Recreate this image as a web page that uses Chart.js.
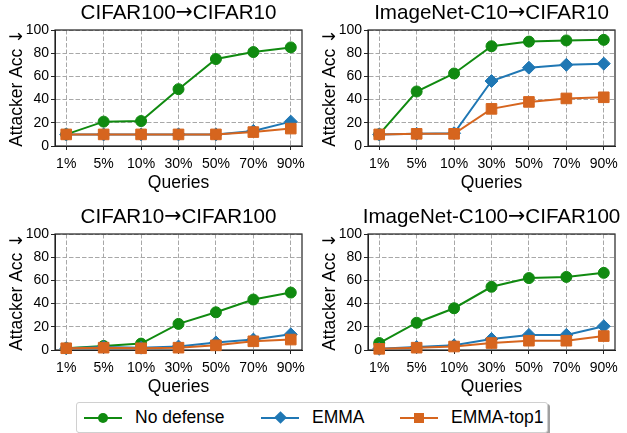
<!DOCTYPE html>
<html>
<head>
<meta charset="utf-8">
<script src="https://cdn.jsdelivr.net/npm/chart.js@4"></script>
<style>
  body { margin: 0; background: #fff; width: 627px; height: 433px; position: relative; overflow: hidden;
         font-family: "Liberation Sans", Arial, sans-serif; }
  .panel { position: absolute; width: 313px; height: 196px; }
  #legend { position: absolute; left: 76px; top: 402px; width: 470px; height: 29px; background: #fff;
            border: 1px solid #d0d0d0; border-radius: 3px; box-shadow: 2px 2px 0 #a0a0a0; }
  .item { position: absolute; top: 0; height: 29px; }
  .ln { position: absolute; top: 13.5px; left: 0; width: 38px; height: 2px; }
  .mk { position: absolute; }
  .tx { position: absolute; left: 51px; top: 4px; font-size: 17.5px; white-space: nowrap; color: #000; }
</style>
</head>
<body>
<div class="panel" style="left:0;top:0"><canvas id="c0" width="313" height="196"></canvas></div>
<div class="panel" style="left:313px;top:0"><canvas id="c1" width="313" height="196"></canvas></div>
<div class="panel" style="left:0;top:204px"><canvas id="c2" width="313" height="196"></canvas></div>
<div class="panel" style="left:313px;top:204px"><canvas id="c3" width="313" height="196"></canvas></div>
<div id="legend"></div>
<script>
// data
const queries = ["1%", "5%", "10%", "30%", "50%", "70%", "90%"];
const yTicks = [0, 20, 40, 60, 80, 100];
const titles = ["CIFAR100→CIFAR10", "ImageNet-C10→CIFAR10", "CIFAR10→CIFAR100", "ImageNet-C100→CIFAR100"];
const yTitle = "Attacker Acc ↓";
const seriesNames = ["No defense", "EMMA", "EMMA-top1"];
const seriesColors = ["#108a10", "#1f77b4", "#d6651e"];

const noDefense = [
  [10, 21, 21.5, 49, 75, 81, 85],
  [10, 47, 62.5, 86, 90, 91, 91.5],
  [1.5, 3.5, 5.5, 22.5, 32.5, 43.5, 49.5],
  [6, 23.5, 36, 54.5, 62, 63, 66.5]
];
const emma = [
  [10, 10, 10, 10, 10, 13, 21],
  [10, 10.5, 11, 56, 67.5, 70, 71],
  [1.5, 2.5, 2, 3, 6.5, 9, 13.5],
  [1, 2.5, 4, 9.5, 13, 13, 20.5]
];
const emmaTop1 = [
  [10, 10, 10, 10, 10, 12, 15],
  [10, 10.5, 10.5, 32, 38, 41, 42],
  [1.5, 2, 1.5, 2, 4, 7.5, 9],
  [1, 2, 3, 6, 8, 8, 12]
];

const FONT = "'Liberation Sans', Arial, sans-serif";
const ARROW_FONT = "'DejaVu Sans', sans-serif";

// draws text centred on (x, y); arrows fall back to DejaVu like matplotlib does
function drawMixed(ctx, text, x, y, size, rot) {
  const parts = text.split(/([→↓])/).filter(p => p.length);
  const fontOf = p => (/[→↓]/.test(p) ? size + "px " + ARROW_FONT : size + "px " + FONT);
  let total = 0;
  const widths = parts.map(p => { ctx.font = fontOf(p); const w = ctx.measureText(p).width; total += w; return w; });
  ctx.save();
  ctx.translate(x, y);
  ctx.rotate(rot);
  ctx.fillStyle = "#000";
  ctx.textBaseline = "middle";
  ctx.textAlign = "left";
  let cx = -total / 2;
  parts.forEach((p, i) => { ctx.font = fontOf(p); ctx.fillText(p, cx, 0); cx += widths[i]; });
  ctx.restore();
}

const frame = {
  id: "frame",
  beforeDatasetsDraw(chart) {
    const { ctx, chartArea: a } = chart;
    ctx.save();
    ctx.strokeStyle = "#222";
    ctx.lineWidth = 1.2;
    ctx.strokeRect(a.left, a.top, a.right - a.left, a.bottom - a.top);
    ctx.restore();
  },
  afterDraw(chart) {
    const { ctx, chartArea: a } = chart;
    drawMixed(ctx, chart.options.plugins.frame.title, (a.left + a.right) / 2, 13, 20.6, 0);
    drawMixed(ctx, yTitle, 17, (a.top + a.bottom) / 2, 17.5, -Math.PI / 2);
  }
};

function axis(extra) {
  return Object.assign({
    grid: { color: "#a8a8a8", lineWidth: 1, tickLength: 4, tickColor: "#222", tickWidth: 1, tickBorderDash: [] },
    border: { color: "#222", width: 1, dash: [4.5, 2] }
  }, extra);
}

function makeDataset(label, values, color, style, radius, order) {
  return {
    label: label,
    data: values.map((v, i) => ({ x: i, y: v })),
    borderColor: color,
    backgroundColor: color,
    borderWidth: 2,
    pointStyle: style,
    pointRadius: radius,
    pointBorderWidth: 1,
    order: order,
    clip: false
  };
}

for (let k = 0; k < 4; k++) {
  new Chart(document.getElementById("c" + k), {
    type: "line",
    data: {
      datasets: [
        makeDataset(seriesNames[0], noDefense[k], seriesColors[0], "circle", 5.5, 2),
        makeDataset(seriesNames[1], emma[k], seriesColors[1], "rectRot", 6.5, 1),
        makeDataset(seriesNames[2], emmaTop1[k], seriesColors[2], "rect", 7.5, 0)
      ]
    },
    options: {
      responsive: false,
      animation: false,
      devicePixelRatio: 1,
      layout: { padding: { left: 0, right: 11, top: 30, bottom: 0 } },
      plugins: {
        legend: { display: false },
        tooltip: { enabled: false },
        title: { display: false },
        frame: { title: titles[k] }
      },
      scales: {
        x: axis({
          type: "linear", min: -0.3, max: 6.3,
          afterBuildTicks: s => { s.ticks = queries.map((q, i) => ({ value: i })); },
          afterFit: s => { s.height = 50; },
          ticks: { callback: (v, i) => queries[i], color: "#000", font: { family: FONT, size: 14 }, padding: 6, maxRotation: 0, autoSkip: false },
          title: { display: true, text: "Queries", color: "#000", font: { family: FONT, size: 17.5 }, padding: { top: 0, bottom: 2 } }
        }),
        y: axis({
          min: 0, max: 100,
          afterBuildTicks: s => { s.ticks = yTicks.map(v => ({ value: v })); },
          afterFit: s => { s.width = 55; },
          ticks: { color: "#000", font: { family: FONT, size: 14 }, padding: 2 },
          title: { display: false }
        })
      }
    },
    plugins: [frame]
  });
}

// legend
const legendX = [7, 184, 323];
const markerCss = [
  "width:10px;height:10px;border-radius:50%;left:14px;top:9.5px;",
  "width:9px;height:9px;transform:rotate(45deg);left:14.5px;top:10px;",
  "width:10px;height:10px;left:14px;top:9.5px;"
];
const legend = document.getElementById("legend");
seriesNames.forEach((name, i) => {
  const item = document.createElement("div");
  item.className = "item";
  item.style.left = legendX[i] + "px";
  item.innerHTML =
    '<span class="ln" style="background:' + seriesColors[i] + '"></span>' +
    '<span class="mk" style="' + markerCss[i] + 'background:' + seriesColors[i] + '"></span>' +
    '<span class="tx">' + name + '</span>';
  legend.appendChild(item);
});
</script>
</body>
</html>
